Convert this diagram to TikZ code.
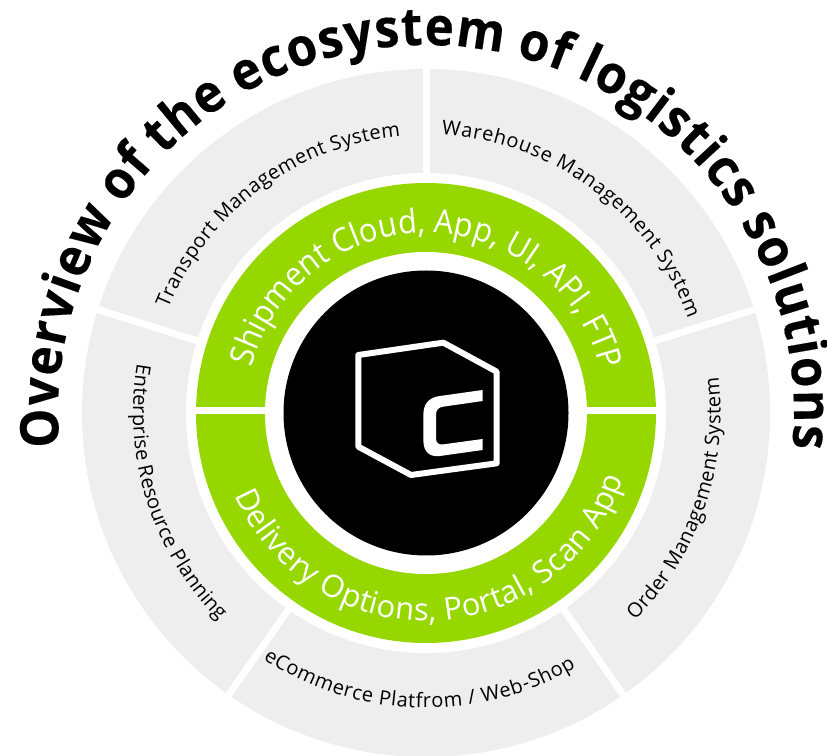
\documentclass[tikz,border=0pt]{standalone}
\usepackage{fontspec}
\setmainfont{Open Sans}
\newfontfamily\titlefont[BoldFeatures={FakeBold=0.3},FakeStretch=0.93,WordSpace=0.85]{Open Sans}
\newfontfamily\ringfont[FakeStretch=0.93]{Open Sans}
\usetikzlibrary{decorations.text}
\definecolor{ringgreen}{HTML}{97D700}
\definecolor{ringgray}{HTML}{EEEEEE}
\newcommand{\arctext}[5]{%
  \path[decorate,decoration={text along path,text align={fit to path},text={|#4|#5}}]
    (#1:#3) arc[start angle=#1,end angle=#2,radius=#3];}
\newcommand{\fsize}[1]{\fontsize{#1}{#1}\selectfont}
\tikzset{divider/.style={draw=white,line width=7pt,line cap=butt}}
\begin{document}
\begin{tikzpicture}[x=1pt,y=1pt]
\clip (0,0) rectangle (827,755);
\fill[white] (0,0) rectangle (827,755);
\begin{scope}[shift={(426,342)}]
  \fill[ringgray] (0,0) circle[radius=344];
  \draw[divider] (90:230) -- (90:350);
  \draw[divider] (162.5:230) -- (162.5:350);
  \draw[divider] (17.5:230) -- (17.5:350);
  \draw[divider] (235:230) -- (235:350);
  \draw[divider] (305:230) -- (305:350);
  \fill[white] (0,0) circle[radius=240];
  \fill[ringgreen] (0,0) circle[radius=230];
  \draw[divider,line width=7.5pt] (-240,2.5) -- (240,2.5);
  \fill[white] (0,0) circle[radius=161];
  \fill[black] (0,0) circle[radius=142.5];
  \arctext{185.3}{-5.5}{368}{\color{black}\titlefont\bfseries\fsize{53}}{Overview of the ecosystem of logistics solutions}
  \arctext{165.5}{14}{180}{\color{white}\ringfont\fsize{33}}{Shipment Cloud, App, UI, API, FTP}
  \arctext{203.2}{341.7}{208}{\color{white}\fsize{31}}{Delivery Options, Portal, Scan App}
  \arctext{158}{95.3}{278}{\color{black}\fsize{20}}{Transport Management System}
  \arctext{86.8}{19.8}{278.5}{\color{black}\fsize{20}}{Warehouse Management System}
  \arctext{-44.8}{7}{294.5}{\color{black}\fsize{20}}{Order Management System}
  \arctext{170.3}{225}{293}{\color{black}\fsize{20}}{Enterprise Resource Planning}
  \arctext{236.5}{300.5}{295}{\color{black}\fsize{20}}{eCommerce Platfrom / Web-Shop}
\end{scope}
\begin{scope}[shift={(330,435)},x=0.33333pt,y=-0.33333pt]
  \draw[white,line width=6pt,line join=round]
    (85,105) -- (340,68) -- (500,155) -- (500,430) -- (243,465) -- (85,380) -- cycle;
  \fill[white] (458,210) -- (330,228) .. controls (298,232) and (280,250) .. (280,285)
    -- (280,360) .. controls (280,395) and (298,412) .. (330,408)
    -- (458,390) -- (458,357) -- (340,373) .. controls (325,375) and (318,368) .. (318,355)
    -- (318,285) .. controls (318,270) and (325,262) .. (340,260)
    -- (458,243) -- cycle;
\end{scope}
\end{tikzpicture}
\end{document}
